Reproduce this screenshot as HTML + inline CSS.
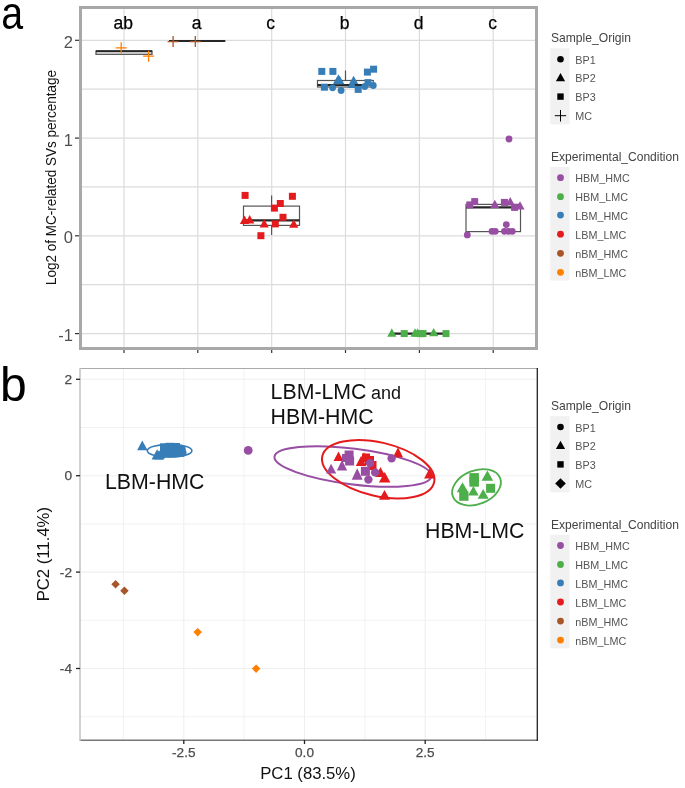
<!DOCTYPE html><html><head><meta charset="utf-8"><style>html,body{margin:0;padding:0;background:#fff;width:685px;height:788px;overflow:hidden}svg{display:block;filter:blur(0.35px)}text{font-family:"Liberation Sans", sans-serif}</style></head><body>
<svg width="685" height="788" viewBox="0 0 685 788">
<rect width="685" height="788" fill="#fff"/>
<g stroke="#dcdcdc" stroke-width="1.2"><line x1="82" x2="535" y1="40.3" y2="40.3"/><line x1="82" x2="535" y1="89.2" y2="89.2"/><line x1="82" x2="535" y1="138.1" y2="138.1"/><line x1="82" x2="535" y1="186.9" y2="186.9"/><line x1="82" x2="535" y1="235.8" y2="235.8"/><line x1="82" x2="535" y1="284.7" y2="284.7"/><line x1="82" x2="535" y1="333.6" y2="333.6"/><line x1="124.0" x2="124.0" y1="9" y2="347"/><line x1="197.8" x2="197.8" y1="9" y2="347"/><line x1="271.7" x2="271.7" y1="9" y2="347"/><line x1="345.5" x2="345.5" y1="9" y2="347"/><line x1="419.4" x2="419.4" y1="9" y2="347"/><line x1="493.2" x2="493.2" y1="9" y2="347"/></g>
<g stroke="#333" stroke-width="1.2"><line x1="75" x2="80" y1="40.3" y2="40.3"/><line x1="75" x2="80" y1="138.1" y2="138.1"/><line x1="75" x2="80" y1="235.8" y2="235.8"/><line x1="75" x2="80" y1="333.6" y2="333.6"/><line x1="124.0" x2="124.0" y1="349" y2="353"/><line x1="197.8" x2="197.8" y1="349" y2="353"/><line x1="271.7" x2="271.7" y1="349" y2="353"/><line x1="345.5" x2="345.5" y1="349" y2="353"/><line x1="419.4" x2="419.4" y1="349" y2="353"/><line x1="493.2" x2="493.2" y1="349" y2="353"/></g>
<g font-size="16.5" fill="#505050" text-anchor="end"><text x="73" y="47.7">2</text><text x="73" y="145.5">1</text><text x="73" y="243.2">0</text><text x="73" y="340.9">-1</text></g>
<text transform="translate(56,177.5) rotate(-90) scale(0.9,1)" text-anchor="middle" font-size="15" fill="#111">Log2 of MC-related SVs percentage</text>
<g font-size="17.5" fill="#000" text-anchor="middle" stroke="#000" stroke-width="0.25"><text x="123.2" y="29">ab</text><text x="196.5" y="29">a</text><text x="270.7" y="29">c</text><text x="344.6" y="29">b</text><text x="418.6" y="29">d</text><text x="492.6" y="29">c</text></g>
<rect x="96" y="51" width="56" height="3.3" fill="#fff" stroke="#555" stroke-width="1.3"/><line x1="96" x2="152" y1="51.2" y2="51.2" stroke="#262626" stroke-width="2"/><line x1="169" x2="225.3" y1="41.1" y2="41.1" stroke="#262626" stroke-width="2"/><line x1="271.6" x2="271.6" y1="195.5" y2="206" stroke="#555" stroke-width="1.2"/><line x1="271.6" x2="271.6" y1="225.4" y2="235" stroke="#555" stroke-width="1.2"/><rect x="243.5" y="206.1" width="56" height="19.3" fill="#fff" stroke="#555" stroke-width="1.2"/><line x1="243.5" x2="299.5" y1="220.4" y2="220.4" stroke="#262626" stroke-width="2.2"/><line x1="345.5" x2="345.5" y1="70.5" y2="80.5" stroke="#555" stroke-width="1.2"/><rect x="317.5" y="80.5" width="55.8" height="6.5" fill="#fff" stroke="#555" stroke-width="1.2"/><line x1="317.5" x2="373.3" y1="85" y2="85" stroke="#262626" stroke-width="2.2"/><line x1="392" x2="446" y1="333.6" y2="333.6" stroke="#262626" stroke-width="2.2"/><rect x="466" y="204.4" width="54.5" height="27.2" fill="#fff" stroke="#555" stroke-width="1.2"/><line x1="466" x2="520.5" y1="207.3" y2="207.3" stroke="#262626" stroke-width="2.2"/>
<path d="M115.7 47.8H126.7M121.2 42.3V53.3" stroke="#ff7f00" stroke-width="1.3" fill="none"/><path d="M143.1 56.2H154.1M148.6 50.7V61.7" stroke="#ff7f00" stroke-width="1.3" fill="none"/><path d="M167.6 41.6H178.6M173.1 36.1V47.1" stroke="#a65628" stroke-width="1.3" fill="none"/><path d="M189.8 41.6H200.8M195.3 36.1V47.1" stroke="#a65628" stroke-width="1.3" fill="none"/><rect x="241.6" y="191.9" width="7" height="7" fill="#e41a1c"/><rect x="288.9" y="192.8" width="7" height="7" fill="#e41a1c"/><rect x="276.8" y="200.0" width="7" height="7" fill="#e41a1c"/><rect x="270.9" y="204.6" width="7" height="7" fill="#e41a1c"/><rect x="279.5" y="213.8" width="7" height="7" fill="#e41a1c"/><rect x="271.8" y="220.4" width="7" height="7" fill="#e41a1c"/><rect x="257.4" y="232.2" width="7" height="7" fill="#e41a1c"/><path d="M244.5 215.5L249.2 223.9L239.8 223.9Z" fill="#e41a1c"/><path d="M249.7 215.1L254.3 223.5L245.0 223.5Z" fill="#e41a1c"/><path d="M264.2 219.1L268.8 227.5L259.6 227.5Z" fill="#e41a1c"/><path d="M293.7 219.3L298.3 227.7L289.1 227.7Z" fill="#e41a1c"/><rect x="318.3" y="67.9" width="7" height="7" fill="#377eb8"/><rect x="329.4" y="67.9" width="7" height="7" fill="#377eb8"/><rect x="363.9" y="68.6" width="7" height="7" fill="#377eb8"/><rect x="370.1" y="65.7" width="7" height="7" fill="#377eb8"/><rect x="320.9" y="83.7" width="7" height="7" fill="#377eb8"/><rect x="354.7" y="85.9" width="7" height="7" fill="#377eb8"/><rect x="364.5" y="79.1" width="7" height="7" fill="#377eb8"/><path d="M338.5 74.3L343.1 82.7L333.9 82.7Z" fill="#377eb8"/><path d="M337.5 75.9L342.1 84.3L332.9 84.3Z" fill="#377eb8"/><path d="M339.8 75.9L344.4 84.3L335.2 84.3Z" fill="#377eb8"/><path d="M353.6 75.7L358.2 84.1L349.0 84.1Z" fill="#377eb8"/><path d="M352.0 79.7L356.6 88.1L347.4 88.1Z" fill="#377eb8"/><circle cx="332.6" cy="87.8" r="3.4" fill="#377eb8"/><circle cx="341.1" cy="90.5" r="3.4" fill="#377eb8"/><circle cx="364.8" cy="86.5" r="3.4" fill="#377eb8"/><circle cx="373.3" cy="85.5" r="3.4" fill="#377eb8"/><path d="M391.8 328.3L396.4 336.7L387.2 336.7Z" fill="#4daf4a"/><path d="M415.0 328.3L419.6 336.7L410.4 336.7Z" fill="#4daf4a"/><path d="M417.5 328.3L422.1 336.7L412.9 336.7Z" fill="#4daf4a"/><path d="M433.7 327.9L438.3 336.3L429.1 336.3Z" fill="#4daf4a"/><rect x="400.7" y="330.1" width="7" height="7" fill="#4daf4a"/><rect x="417.0" y="330.1" width="7" height="7" fill="#4daf4a"/><rect x="419.5" y="330.1" width="7" height="7" fill="#4daf4a"/><rect x="442.5" y="330.1" width="7" height="7" fill="#4daf4a"/><circle cx="509.0" cy="139.0" r="3.4" fill="#984ea3"/><rect x="466.3" y="201.4" width="7" height="7" fill="#984ea3"/><rect x="471.2" y="198.1" width="7" height="7" fill="#984ea3"/><rect x="500.9" y="198.9" width="7" height="7" fill="#984ea3"/><rect x="511.1" y="203.9" width="7" height="7" fill="#984ea3"/><path d="M494.8 199.7L499.4 208.1L490.2 208.1Z" fill="#984ea3"/><path d="M510.2 197.1L514.9 205.5L505.6 205.5Z" fill="#984ea3"/><path d="M520.0 201.2L524.6 209.6L515.4 209.6Z" fill="#984ea3"/><circle cx="467.3" cy="234.9" r="3.4" fill="#984ea3"/><circle cx="492.0" cy="231.3" r="3.4" fill="#984ea3"/><circle cx="495.3" cy="231.3" r="3.4" fill="#984ea3"/><circle cx="506.3" cy="224.6" r="3.4" fill="#984ea3"/><circle cx="504.4" cy="231.3" r="3.4" fill="#984ea3"/><circle cx="508.5" cy="231.3" r="3.4" fill="#984ea3"/><circle cx="512.3" cy="231.3" r="3.4" fill="#984ea3"/>
<rect x="80.5" y="7.5" width="456" height="341" fill="none" stroke="#a8a8a8" stroke-width="3"/>
<text x="1.6" y="29.1" font-size="46.5" fill="#000" transform="scale(0.845,1)">a</text>
<text x="551" y="42.2" font-size="12.1" fill="#444">Sample_Origin</text><rect x="550.3" y="48.4" width="19.2" height="76" fill="#f1f1f1"/><circle cx="560.5" cy="59.2" r="3.3" fill="#000"/><path d="M560.5 72.9L565.1 81.2L555.9 81.2Z" fill="#000"/><rect x="557.3" y="93.4" width="6.4" height="6.4" fill="#000"/><path d="M554.8 115.7H566.2M560.5 110.0V121.5" stroke="#000" stroke-width="1.0" fill="none"/><text transform="translate(575.3,63.8) scale(0.93,1)" font-size="11.6" fill="#555">BP1</text><text transform="translate(575.3,82.4) scale(0.93,1)" font-size="11.6" fill="#555">BP2</text><text transform="translate(575.3,101.2) scale(0.93,1)" font-size="11.6" fill="#555">BP3</text><text transform="translate(575.3,120.3) scale(0.93,1)" font-size="11.6" fill="#555">MC</text><text x="551" y="161.2" font-size="12.05" fill="#444">Experimental_Condition</text><rect x="550.3" y="166.9" width="19.2" height="113.6" fill="#f1f1f1"/><circle cx="560.5" cy="177.7" r="3.4" fill="#984ea3"/><text transform="translate(575.3,182.3) scale(0.93,1)" font-size="11.6" fill="#555">HBM_HMC</text><circle cx="560.5" cy="196.7" r="3.4" fill="#4daf4a"/><text transform="translate(575.3,201.3) scale(0.93,1)" font-size="11.6" fill="#555">HBM_LMC</text><circle cx="560.5" cy="215.1" r="3.4" fill="#377eb8"/><text transform="translate(575.3,219.7) scale(0.93,1)" font-size="11.6" fill="#555">LBM_HMC</text><circle cx="560.5" cy="234.2" r="3.4" fill="#e41a1c"/><text transform="translate(575.3,238.8) scale(0.93,1)" font-size="11.6" fill="#555">LBM_LMC</text><circle cx="560.5" cy="253.3" r="3.4" fill="#a65628"/><text transform="translate(575.3,257.9) scale(0.93,1)" font-size="11.6" fill="#555">nBM_HMC</text><circle cx="560.5" cy="272.3" r="3.4" fill="#ff7f00"/><text transform="translate(575.3,276.9) scale(0.93,1)" font-size="11.6" fill="#555">nBM_LMC</text>
<text x="551" y="410.0" font-size="12.1" fill="#444">Sample_Origin</text><rect x="550.3" y="416.2" width="19.2" height="76" fill="#f1f1f1"/><circle cx="560.5" cy="427.0" r="3.3" fill="#000"/><path d="M560.5 440.7L565.1 449.0L555.9 449.0Z" fill="#000"/><rect x="557.3" y="461.2" width="6.4" height="6.4" fill="#000"/><path d="M560.5 478.2L565.8 483.5L560.5 488.8L555.2 483.5Z" fill="#000"/><text transform="translate(575.3,431.6) scale(0.93,1)" font-size="11.6" fill="#555">BP1</text><text transform="translate(575.3,450.2) scale(0.93,1)" font-size="11.6" fill="#555">BP2</text><text transform="translate(575.3,469.0) scale(0.93,1)" font-size="11.6" fill="#555">BP3</text><text transform="translate(575.3,488.1) scale(0.93,1)" font-size="11.6" fill="#555">MC</text><text x="551" y="529.0" font-size="12.05" fill="#444">Experimental_Condition</text><rect x="550.3" y="534.7" width="19.2" height="113.6" fill="#f1f1f1"/><circle cx="560.5" cy="545.5" r="3.4" fill="#984ea3"/><text transform="translate(575.3,550.1) scale(0.93,1)" font-size="11.6" fill="#555">HBM_HMC</text><circle cx="560.5" cy="564.5" r="3.4" fill="#4daf4a"/><text transform="translate(575.3,569.1) scale(0.93,1)" font-size="11.6" fill="#555">HBM_LMC</text><circle cx="560.5" cy="582.9" r="3.4" fill="#377eb8"/><text transform="translate(575.3,587.5) scale(0.93,1)" font-size="11.6" fill="#555">LBM_HMC</text><circle cx="560.5" cy="602.0" r="3.4" fill="#e41a1c"/><text transform="translate(575.3,606.6) scale(0.93,1)" font-size="11.6" fill="#555">LBM_LMC</text><circle cx="560.5" cy="621.1" r="3.4" fill="#a65628"/><text transform="translate(575.3,625.7) scale(0.93,1)" font-size="11.6" fill="#555">nBM_HMC</text><circle cx="560.5" cy="640.1" r="3.4" fill="#ff7f00"/><text transform="translate(575.3,644.7) scale(0.93,1)" font-size="11.6" fill="#555">nBM_LMC</text>
<g stroke="#efefef"><line x1="80" x2="537" y1="379.3" y2="379.3" stroke-width="1.1"/><line x1="80" x2="537" y1="427.5" y2="427.5" stroke-width="0.8"/><line x1="80" x2="537" y1="475.7" y2="475.7" stroke-width="1.1"/><line x1="80" x2="537" y1="523.9" y2="523.9" stroke-width="0.8"/><line x1="80" x2="537" y1="572.1" y2="572.1" stroke-width="1.1"/><line x1="80" x2="537" y1="620.3" y2="620.3" stroke-width="0.8"/><line x1="80" x2="537" y1="668.5" y2="668.5" stroke-width="1.1"/><line x1="80" x2="537" y1="716.7" y2="716.7" stroke-width="0.8"/><line x1="123.4" x2="123.4" y1="368" y2="740" stroke-width="0.8"/><line x1="183.8" x2="183.8" y1="368" y2="740" stroke-width="1.1"/><line x1="244.1" x2="244.1" y1="368" y2="740" stroke-width="0.8"/><line x1="304.5" x2="304.5" y1="368" y2="740" stroke-width="1.1"/><line x1="364.9" x2="364.9" y1="368" y2="740" stroke-width="0.8"/><line x1="425.2" x2="425.2" y1="368" y2="740" stroke-width="1.1"/><line x1="485.6" x2="485.6" y1="368" y2="740" stroke-width="0.8"/></g>
<path d="M80 368.5H537.5" stroke="#aaa" stroke-width="1.2" fill="none"/>
<path d="M80 740.3H537.5" stroke="#777" stroke-width="1.4" fill="none"/>
<path d="M80 368V741" stroke="#c0c0c0" stroke-width="1.5" fill="none"/>
<path d="M537.3 368V741" stroke="#222" stroke-width="1.3" fill="none"/>
<g stroke="#222" stroke-width="1.3"><line x1="76" x2="80" y1="379.3" y2="379.3"/><line x1="76" x2="80" y1="475.7" y2="475.7"/><line x1="76" x2="80" y1="572.1" y2="572.1"/><line x1="76" x2="80" y1="668.5" y2="668.5"/><line x1="183.8" x2="183.8" y1="740" y2="744"/><line x1="304.5" x2="304.5" y1="740" y2="744"/><line x1="425.2" x2="425.2" y1="740" y2="744"/></g>
<g font-size="13.7" fill="#4d4d4d" stroke="#4d4d4d" stroke-width="0.25" text-anchor="end"><text x="72" y="384.0">2</text><text x="72" y="480.4">0</text><text x="72" y="576.8">-2</text><text x="72" y="673.2">-4</text></g>
<g font-size="13.6" fill="#4d4d4d" stroke="#4d4d4d" stroke-width="0.25" text-anchor="middle"><text x="183.8" y="757">-2.5</text><text x="304.5" y="757">0.0</text><text x="425.2" y="757">2.5</text></g>
<text x="308" y="779" font-size="16.7" fill="#111" text-anchor="middle">PC1 (83.5%)</text>
<text transform="translate(48.8,554.2) rotate(-90)" font-size="16.7" fill="#111" text-anchor="middle">PC2 (11.4%)</text>
<text x="0" y="400.5" font-size="48" fill="#000">b</text>
<ellipse cx="169.6" cy="450.7" rx="22.3" ry="6.3" fill="none" stroke="#377eb8" stroke-width="1.6"/>
<ellipse cx="0" cy="0" rx="79" ry="17.8" fill="none" stroke="#984ea3" stroke-width="2" transform="translate(352.9,466.5) rotate(7.1)"/>
<ellipse cx="0" cy="0" rx="57.4" ry="26.8" fill="none" stroke="#e41a1c" stroke-width="2" transform="translate(378.2,469.2) rotate(13.3)"/>
<ellipse cx="0" cy="0" rx="25.4" ry="16.8" fill="none" stroke="#4daf4a" stroke-width="1.8" transform="translate(476.5,487.3) rotate(-21.7)"/>
<path d="M142.3 440.6L147.6 450.3L137.1 450.3Z" fill="#377eb8"/><path d="M157.1 449.3L162.6 459.5L151.6 459.5Z" fill="#377eb8"/><path d="M159.0 450.0L164.0 459.5L154.0 459.5Z" fill="#377eb8"/><rect x="160.0" y="443.3" width="9" height="9" fill="#377eb8"/><rect x="165.5" y="442.8" width="9" height="9" fill="#377eb8"/><rect x="171.0" y="443.0" width="9" height="9" fill="#377eb8"/><rect x="161.5" y="448.3" width="9" height="9" fill="#377eb8"/><rect x="167.5" y="448.5" width="9" height="9" fill="#377eb8"/><rect x="173.0" y="448.0" width="9" height="9" fill="#377eb8"/><circle cx="181.5" cy="449.0" r="4.3" fill="#377eb8"/><circle cx="182.3" cy="452.8" r="4.3" fill="#377eb8"/><circle cx="162.0" cy="455.0" r="4.3" fill="#377eb8"/><circle cx="248.2" cy="450.4" r="4.4" fill="#984ea3"/><path d="M338.5 451.4L343.5 461.1L333.5 461.1Z" fill="#e41a1c"/><path d="M364.0 452.3L369.5 462.3L358.5 462.3Z" fill="#e41a1c"/><path d="M380.5 467.0L385.8 477.0L375.2 477.0Z" fill="#e41a1c"/><path d="M384.7 472.0L390.4 482.4L378.9 482.4Z" fill="#e41a1c"/><path d="M398.0 447.3L403.0 457.2L393.0 457.2Z" fill="#e41a1c"/><path d="M429.6 468.3L435.1 478.4L424.1 478.4Z" fill="#e41a1c"/><path d="M384.5 490.0L390.0 499.8L379.0 499.8Z" fill="#e41a1c"/><rect x="365.0" y="456.0" width="9" height="9" fill="#e41a1c"/><rect x="362.0" y="453.5" width="8" height="8" fill="#e41a1c"/><rect x="367.5" y="461.0" width="9" height="9" fill="#e41a1c"/><path d="M361.0 456.0L366.2 466.0L355.8 466.0Z" fill="#e41a1c"/><rect x="344.6" y="450.5" width="9" height="9" fill="#984ea3"/><rect x="345.1" y="456.5" width="9" height="9" fill="#984ea3"/><rect x="342.0" y="454.0" width="8" height="8" fill="#984ea3"/><path d="M342.0 460.0L347.2 470.4L336.8 470.4Z" fill="#984ea3"/><path d="M331.1 463.7L336.2 473.6L326.0 473.6Z" fill="#984ea3"/><circle cx="370.1" cy="463.1" r="4.2" fill="#984ea3"/><path d="M357.2 468.3L362.7 479.8L351.7 479.8Z" fill="#984ea3"/><rect x="360.9" y="466.8" width="9" height="9" fill="#984ea3"/><circle cx="375.1" cy="472.4" r="4.2" fill="#984ea3"/><circle cx="368.4" cy="479.6" r="4.2" fill="#984ea3"/><circle cx="391.6" cy="458.4" r="4.2" fill="#984ea3"/><rect x="469.4" y="473.1" width="9.5" height="9.5" fill="#4daf4a"/><rect x="469.4" y="477.2" width="9.5" height="9.5" fill="#4daf4a"/><path d="M487.4 470.6L493.2 480.7L481.6 480.7Z" fill="#4daf4a"/><rect x="486.1" y="483.8" width="9" height="9" fill="#4daf4a"/><path d="M462.5 482.3L468.3 492.3L456.7 492.3Z" fill="#4daf4a"/><rect x="459.2" y="491.5" width="9.3" height="9.3" fill="#4daf4a"/><path d="M473.4 485.9L478.6 495.5L468.1 495.5Z" fill="#4daf4a"/><path d="M483.2 489.1L488.7 498.7L477.7 498.7Z" fill="#4daf4a"/><path d="M115.6 580.0L119.8 584.2L115.6 588.5L111.3 584.2Z" fill="#a65628"/><path d="M124.4 586.5L128.7 590.7L124.4 595.0L120.2 590.7Z" fill="#a65628"/><path d="M197.7 627.9L201.9 632.1L197.7 636.4L193.4 632.1Z" fill="#ff7f00"/><path d="M256.1 664.4L260.4 668.6L256.1 672.9L251.9 668.6Z" fill="#ff7f00"/>
<g font-size="21.3" fill="#111">
<text x="105" y="489.3">LBM-HMC</text>
<text x="270.6" y="399.3">LBM-LMC</text>
<text x="371" y="399.3" font-size="18">and</text>
<text x="270.6" y="423.8">HBM-HMC</text>
<text x="425" y="537.7">HBM-LMC</text>
</g>
</svg></body></html>
